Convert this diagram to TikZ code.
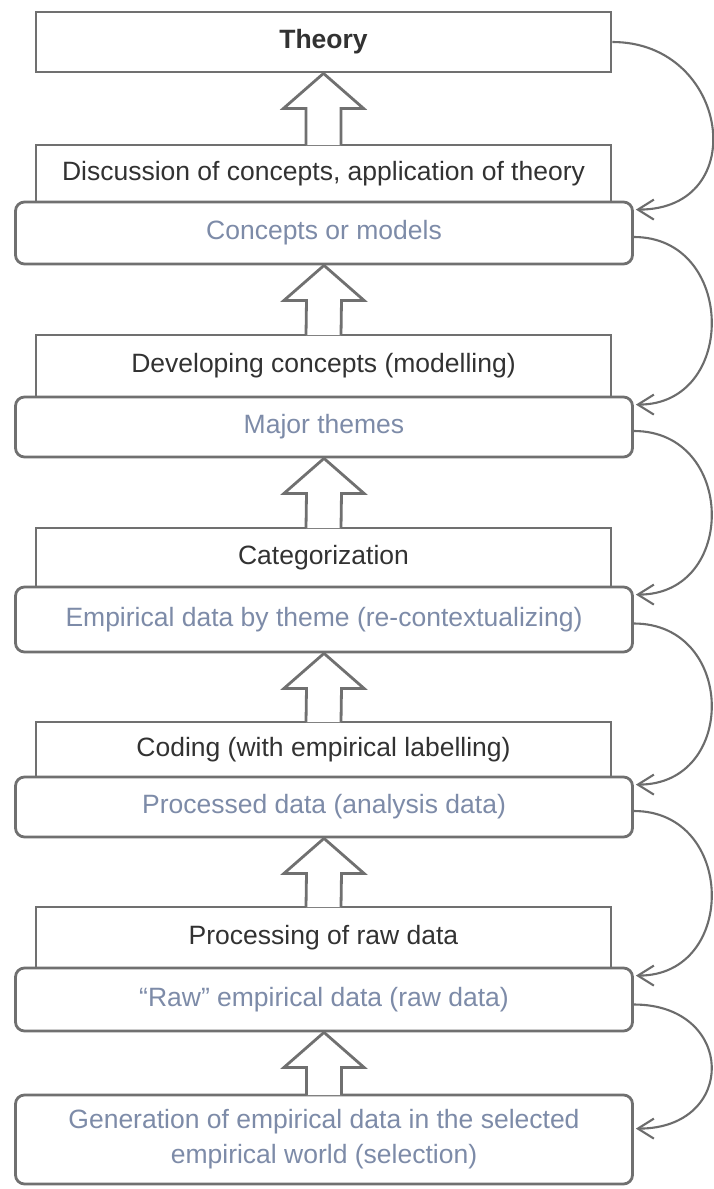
\documentclass[tikz,border=0pt]{standalone}
\usepackage{fontspec}
\setmainfont{Liberation Sans}
\usetikzlibrary{arrows.meta,calc}
\definecolor{linegray}{RGB}{112,112,112}
\definecolor{curvegray}{RGB}{108,108,108}
\definecolor{darktext}{RGB}{50,50,50}
\definecolor{bluetext}{RGB}{125,139,168}
\newcommand{\blockup}[2]{%
  \path[blockarrow] ([xshift=-17.5pt,yshift=-1.4pt]#1.north)
    -- ([xshift=-17.5pt,yshift=-35pt]#2.south)
    -- ([xshift=-40pt,yshift=-35pt]#2.south)
    -- (#2.south)
    -- ([xshift=40pt,yshift=-35pt]#2.south)
    -- ([xshift=17.5pt,yshift=-35pt]#2.south)
    -- ([xshift=17.5pt,yshift=-1.4pt]#1.north);}
\begin{document}
\begin{tikzpicture}[x=1pt,y=1pt,
  every node/.style={font=\fontsize{26.5}{35}\selectfont, inner sep=0pt},
  stepbox/.style={draw=linegray, line width=2.8pt, fill=white, minimum width=575pt, text=darktext},
  resultbox/.style={draw=linegray, line width=2.8pt, fill=white, rounded corners=9pt, minimum width=617pt, text=bluetext, align=center},
  loop/.style={draw=curvegray, line width=2.1pt, -{Straight Barb[length=16pt,width=20pt]}},
  blockarrow/.style={draw=linegray, line width=2.8pt, fill=white}
]
\useasboundingbox (0,0) rectangle (713,-1189);
\fill[white] (0,0) rectangle (713,-1189);

\node[stepbox, minimum height=60pt, font=\fontsize{26.5}{35}\selectfont\bfseries] (theory) at (323.5,-42) {Theory};

\node[stepbox, minimum height=57pt] (t1) at (323.5,-173.5) {Discussion of concepts, application of theory};
\node[resultbox, minimum height=62pt] (r1) at (324,-233) {Concepts or models};

\node[stepbox, minimum height=62pt] (t2) at (323.5,-366) {Developing concepts (modelling)};
\node[resultbox, minimum height=60pt] (r2) at (324,-427) {Major themes};

\node[stepbox, minimum height=59pt] (t3) at (323.5,-557.5) {Categorization};
\node[resultbox, minimum height=65pt] (r3) at (324,-619.5) {Empirical data by theme (re-contextualizing)};

\node[stepbox, minimum height=55pt] (t4) at (323.5,-749.5) {Coding (with empirical labelling)};
\node[resultbox, minimum height=60pt] (r4) at (324,-807) {Processed data (analysis data)};

\node[stepbox, minimum height=61pt] (t5) at (323.5,-937.5) {Processing of raw data};
\node[resultbox, minimum height=63pt] (r5) at (324,-999.5) {“Raw” empirical data (raw data)};

\node[resultbox, minimum height=89pt] (gen) at (324,-1139.5) {Generation of empirical data in the selected\\empirical world (selection)};

\blockup{t1}{theory}
\blockup{t2}{r1}
\blockup{t3}{r2}
\blockup{t4}{r3}
\blockup{t5}{r4}
\blockup{gen}{r5}

\draw[loop] (theory.east) .. controls +(117,0) and +(117,0) .. ([xshift=2pt,yshift=-9pt]r1.north east);
\draw[loop] ([yshift=-4pt]r1.east) .. controls +(102,0) and +(102,0) .. ([xshift=2pt,yshift=-9pt]r2.north east);
\draw[loop] ([yshift=-4pt]r2.east) .. controls +(102,0) and +(102,0) .. ([xshift=2pt,yshift=-9pt]r3.north east);
\draw[loop] ([yshift=-4pt]r3.east) .. controls +(102,0) and +(102,0) .. ([xshift=2pt,yshift=-9pt]r4.north east);
\draw[loop] ([yshift=-4pt]r4.east) .. controls +(102,0) and +(102,0) .. ([xshift=2pt,yshift=-9pt]r5.north east);
\draw[loop] ([yshift=-5pt]r5.east) .. controls +(102,0) and +(102,0) .. ([xshift=2pt,yshift=-35pt]gen.north east);
\end{tikzpicture}
\end{document}
